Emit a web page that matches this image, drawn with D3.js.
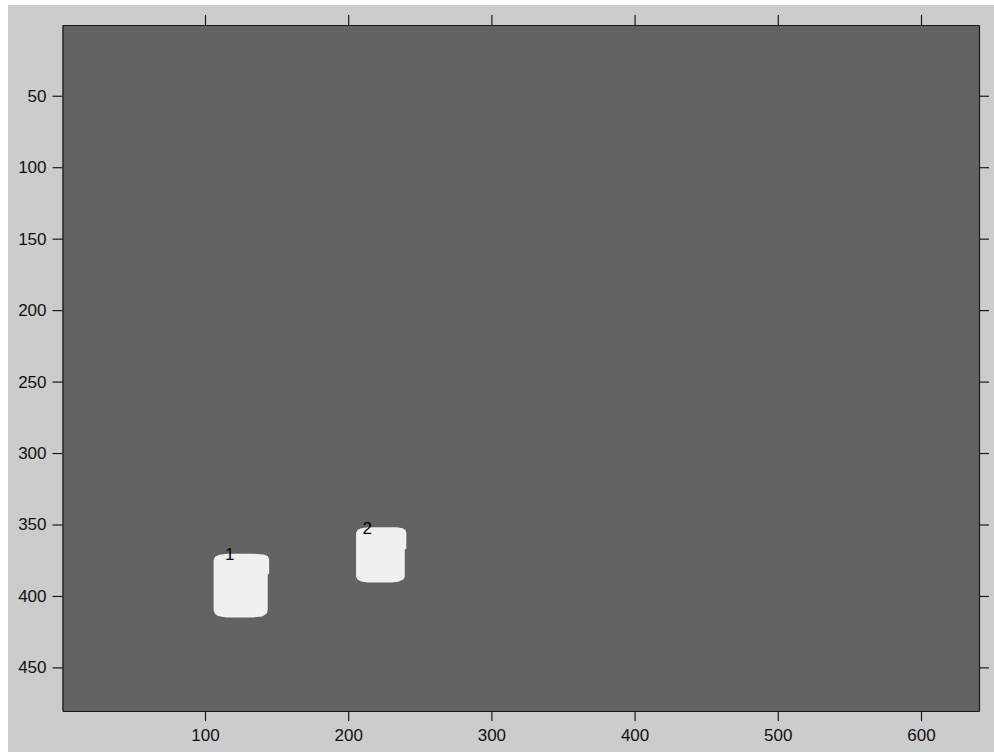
<!DOCTYPE html>
<style>
  body { margin: 0; background: #fff; }
  .axis text { font-family: "Liberation Sans", Arial, sans-serif; font-size: 17px; fill: #111; }
  .axis path, .axis line { stroke: #1a1a1a; stroke-width: 1.2; }
</style>
<svg width="994" height="752"></svg>
<script src="https://d3js.org/d3.v7.min.js"></script>
<script>

// image extent (pixels of the underlying frame)
var imgCols = [0.5, 640.5],
    imgRows = [0.5, 480.5];

var xTicks = [100, 200, 300, 400, 500, 600],
    yTicks = [50, 100, 150, 200, 250, 300, 350, 400, 450];

// blob outlines, in image coordinates
var blob1 = [[106,375],[107,372.5],[110,371.2],[116,370.5],[134,370.5],[141,371],[144,372.3],[144.8,374.5],
             [144.8,384.5],[143.8,385],[143.8,410],[143,412.5],[140,414.3],[134,415],[115,415],
             [109,414],[107,412.5],[106,410]];
var blob2 = [[205.5,356],[206.5,353.8],[209,352.6],[214,352],[234,352],[238,352.6],[240,353.8],[240.6,356],
             [240.6,367],[239.5,367.5],[239.5,386.5],[238.5,388.5],[235,390],[230,390.6],[214,390.6],
             [209,389.8],[206.5,388.5],[205.5,386.5]];

var blobLabels = ["1", "2"];
var labelPos = [[114, 371], [210, 352.5]];

var svg = d3.select("svg");

// figure background
svg.append("rect")
    .attr("x", 8).attr("y", 5)
    .attr("width", 994 - 8).attr("height", 752 - 5)
    .attr("fill", "#cccccc");

var x = d3.scaleLinear().domain(imgCols).range([62.5, 979]);
var y = d3.scaleLinear().domain(imgRows).range([25, 711]);

// image area
svg.append("rect")
    .attr("x", x(imgCols[0])).attr("y", y(imgRows[0]))
    .attr("width", x(imgCols[1]) - x(imgCols[0]))
    .attr("height", y(imgRows[1]) - y(imgRows[0]))
    .attr("fill", "#636363");

var line = d3.line()
    .x(function(d) { return x(d[0]); })
    .y(function(d) { return y(d[1]); })
    .curve(d3.curveLinearClosed);

svg.selectAll(".blob")
    .data([blob1, blob2])
  .enter().append("path")
    .attr("class", "blob")
    .attr("d", line)
    .attr("fill", "#f0f0f0");

svg.selectAll(".lbl")
    .data(blobLabels)
  .enter().append("text")
    .attr("class", "lbl")
    .attr("x", function(d, i) { return x(labelPos[i][0]); })
    .attr("y", function(d, i) { return y(labelPos[i][1]); })
    .attr("dy", "0.35em")
    .style("font-family", "Liberation Sans, Arial, sans-serif")
    .style("font-size", "17px")
    .style("fill", "#000")
    .text(function(d) { return d; });

// axes
var h = y(imgRows[1]), w = x(imgCols[1]);

svg.append("g").attr("class", "axis")
    .attr("transform", "translate(0," + h + ")")
    .call(d3.axisBottom(x).tickValues(xTicks).tickSize(10).tickSizeOuter(0).tickPadding(8));

svg.append("g").attr("class", "axis")
    .attr("transform", "translate(0," + y(imgRows[0]) + ")")
    .call(d3.axisTop(x).tickValues(xTicks).tickSize(10).tickSizeOuter(0).tickFormat(""));

svg.append("g").attr("class", "axis")
    .attr("transform", "translate(" + x(imgCols[0]) + ",0)")
    .call(d3.axisLeft(y).tickValues(yTicks).tickSize(10).tickSizeOuter(0).tickPadding(6));

svg.append("g").attr("class", "axis")
    .attr("transform", "translate(" + w + ",0)")
    .call(d3.axisRight(y).tickValues(yTicks).tickSize(10).tickSizeOuter(0).tickFormat(""));

</script>
